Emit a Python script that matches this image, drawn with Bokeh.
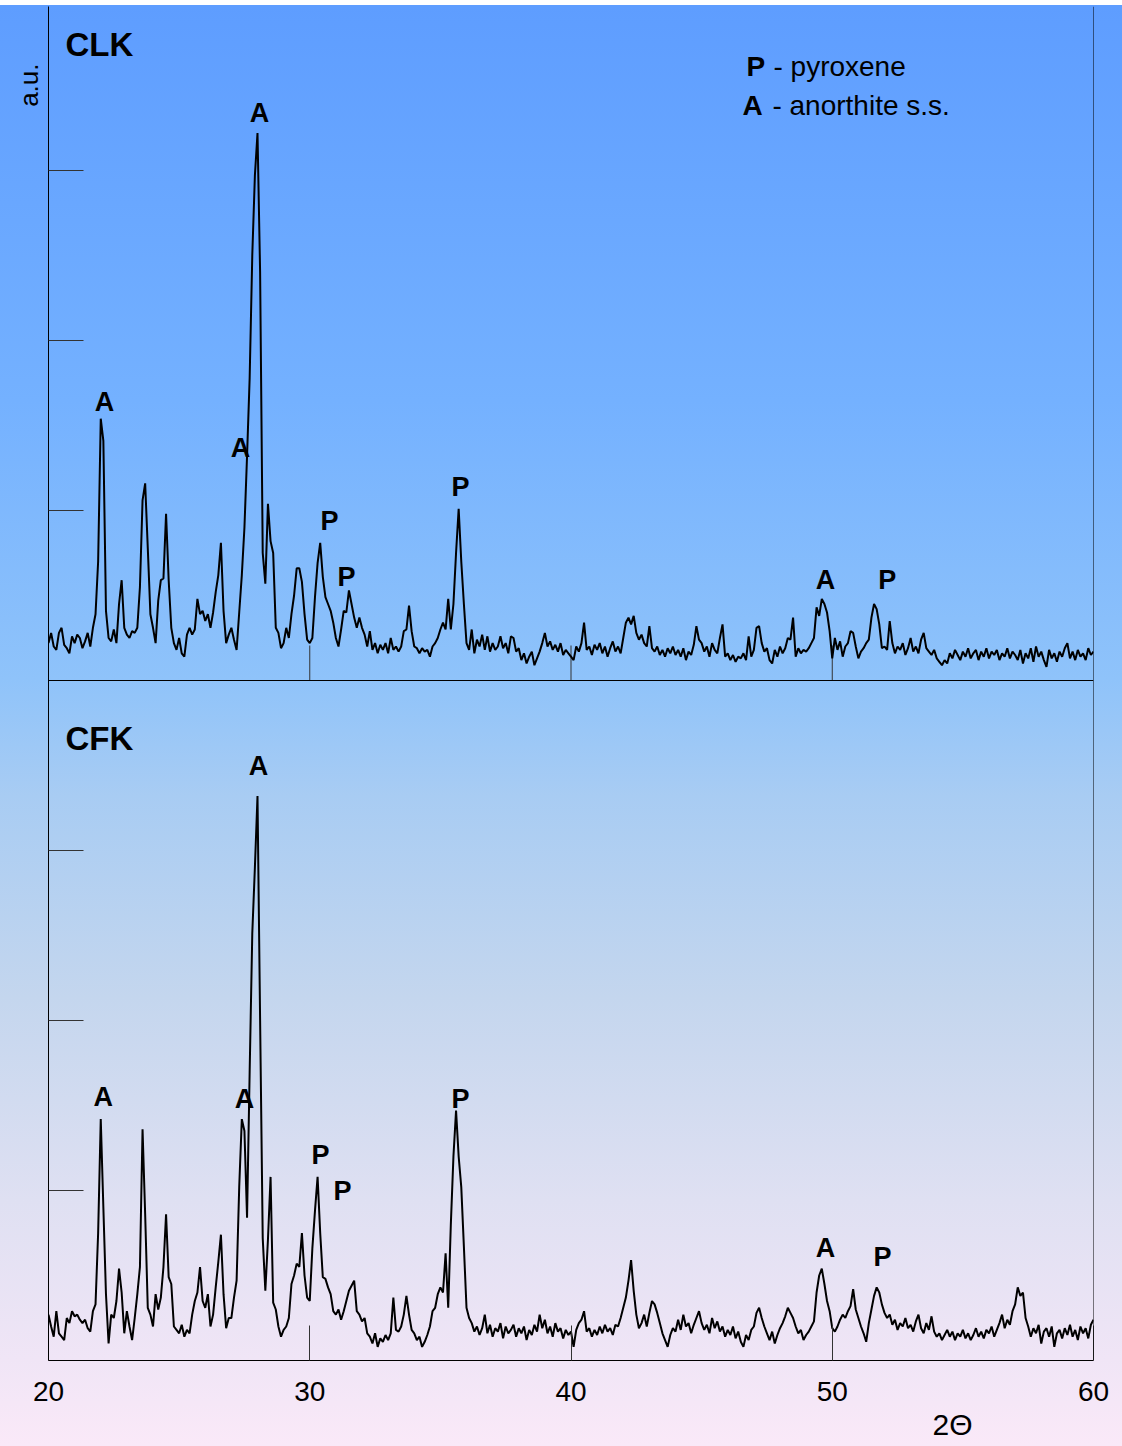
import numpy as np
from bokeh.plotting import figure
from bokeh.models import Range1d, FixedTicker, Span, Title, ColumnDataSource
from bokeh.core.properties import value
from bokeh.embed import file_html
from bokeh.resources import INLINE

# 2-theta scan, 20-60 deg in 0.1 deg steps
two_theta = np.round(np.arange(200, 601) * 0.1, 1)

# CLK diffractogram, intensity in a.u. (x100)
clk = [
    22, 28, 20, 18, 28, 31, 21, 19, 16, 26,
    22, 27, 25, 19, 23, 28, 20, 31, 39, 70,
    154, 141, 41, 25, 23, 30, 22, 45, 59, 31,
    27, 25, 29, 28, 31, 55, 106, 116, 78, 39,
    31, 22, 47, 59, 60, 98, 59, 31, 22, 18,
    25, 16, 14, 27, 31, 27, 30, 48, 39, 41,
    35, 39, 31, 40, 52, 62, 81, 41, 22, 27,
    31, 24, 18, 40, 62, 90, 132, 178, 250, 297,
    322, 240, 75, 57, 104, 82, 75, 31, 28, 19,
    22, 31, 25, 39, 50, 66, 66, 58, 39, 24,
    22, 25, 49, 69, 81, 61, 49, 45, 41, 34,
    25, 20, 30, 41, 40, 53, 45, 37, 31, 37,
    31, 27, 20, 29, 18, 22, 16, 21, 18, 22,
    16, 25, 18, 20, 17, 20, 29, 30, 44, 29,
    20, 19, 16, 19, 17, 18, 14, 20, 22, 25,
    30, 34, 30, 48, 30, 45, 75, 101, 70, 45,
    22, 18, 30, 16, 24, 20, 27, 18, 26, 17,
    22, 18, 20, 26, 19, 22, 16, 26, 25, 17,
    19, 12, 16, 10, 14, 17, 9, 13, 17, 22,
    28, 20, 23, 18, 21, 17, 22, 15, 18, 16,
    14, 12, 20, 17, 22, 34, 18, 20, 15, 21,
    18, 22, 16, 20, 14, 19, 23, 17, 20, 16,
    25, 34, 37, 33, 38, 28, 24, 27, 22, 20,
    32, 19, 17, 20, 15, 18, 14, 19, 16, 20,
    15, 18, 14, 19, 12, 17, 15, 21, 32, 24,
    22, 17, 20, 14, 22, 18, 16, 25, 33, 14,
    16, 12, 15, 11, 14, 13, 16, 12, 26, 14,
    18, 31, 32, 22, 17, 19, 12, 10, 18, 14,
    20, 16, 19, 25, 24, 37, 14, 19, 16, 18,
    17, 19, 22, 25, 43, 38, 48, 45, 40, 29,
    13, 25, 18, 23, 14, 20, 22, 29, 28, 20,
    13, 17, 19, 22, 24, 37, 45, 42, 33, 19,
    20, 18, 35, 22, 16, 20, 18, 22, 15, 19,
    25, 17, 20, 16, 24, 28, 19, 17, 15, 18,
    13, 11, 9, 12, 10, 16, 13, 18, 15, 12,
    17, 14, 19, 13, 16, 18, 12, 17, 14, 19,
    13, 17, 15, 18, 12, 16, 14, 19, 13, 17,
    15, 12, 18, 10, 16, 13, 19, 11, 20, 14,
    17, 12, 8, 18, 13, 16, 11, 17, 14, 19,
    22, 13, 17, 12, 18, 14, 16, 12, 19, 15,
    17,
]

# CFK diffractogram, intensity in a.u. (x100)
cfk = [
    27, 20, 14, 29, 16, 14, 12, 25, 22, 29,
    26, 27, 24, 22, 24, 19, 17, 29, 33, 75,
    142, 90, 39, 10, 27, 25, 35, 54, 40, 16,
    29, 20, 12, 25, 39, 55, 136, 86, 31, 27,
    20, 39, 30, 37, 55, 86, 49, 45, 20, 18,
    16, 21, 14, 18, 16, 27, 35, 40, 55, 35,
    31, 39, 20, 27, 43, 58, 74, 39, 19, 25,
    25, 37, 47, 102, 142, 135, 84, 170, 251, 290,
    332, 200, 72, 41, 71, 108, 34, 30, 20, 14,
    18, 20, 25, 45, 50, 57, 55, 75, 50, 37,
    35, 66, 88, 108, 75, 49, 48, 43, 39, 29,
    27, 30, 24, 29, 35, 41, 44, 47, 29, 27,
    23, 25, 16, 14, 10, 16, 8, 13, 11, 15,
    12, 16, 37, 18, 17, 20, 27, 38, 27, 18,
    16, 12, 14, 8, 11, 15, 20, 29, 31, 39,
    43, 40, 63, 31, 80, 120, 147, 120, 102, 67,
    31, 25, 22, 17, 20, 15, 19, 27, 16, 21,
    14, 19, 17, 22, 13, 20, 16, 18, 21, 14,
    19, 16, 20, 12, 18, 15, 21, 17, 27, 19,
    24, 16, 20, 14, 22, 17, 19, 13, 18, 15,
    17, 8, 18, 22, 24, 29, 17, 19, 14, 18,
    15, 20, 16, 21, 17, 19, 15, 21, 20, 25,
    31, 37, 47, 59, 41, 27, 19, 22, 27, 20,
    28, 35, 33, 28, 22, 16, 12, 8, 15, 19,
    17, 24, 18, 27, 20, 22, 16, 21, 25, 29,
    22, 18, 21, 16, 25, 19, 23, 17, 20, 14,
    18, 15, 20, 13, 17, 11, 8, 15, 12, 18,
    20, 28, 31, 25, 20, 16, 12, 17, 10, 15,
    19, 22, 26, 31, 28, 25, 20, 16, 18, 12,
    15, 17, 20, 23, 40, 50, 54, 45, 35, 29,
    19, 17, 20, 24, 27, 25, 29, 32, 42, 30,
    25, 20, 16, 11, 22, 30, 38, 43, 40, 33,
    28, 25, 27, 21, 24, 18, 22, 20, 25, 19,
    21, 17, 23, 27, 19, 16, 22, 18, 26, 17,
    14, 16, 12, 15, 18, 14, 17, 12, 16, 14,
    18, 13, 16, 12, 15, 19, 14, 17, 13, 18,
    16, 20, 14, 18, 22, 27, 19, 24, 21, 29,
    33, 43, 38, 40, 25, 20, 14, 19, 16, 21,
    10, 17, 19, 14, 20, 8, 16, 18, 13, 19,
    15, 21, 14, 18, 12, 20, 16, 19, 13, 21,
    24,
]

x_ticks = [20, 30, 40, 50, 60]
inner_x_ticks = [30, 40, 50]
y_ticks = [100, 200, 300]

# each panel is 400 units tall; CLK stacked above CFK
panel_offset = {"CLK": 400, "CFK": 0}

# phase markers: (letter, 2theta, height) in panel coordinates
clk_marks = [("A", 28.08, 334), ("A", 22.14, 164), ("A", 27.35, 137),
             ("P", 30.76, 94), ("P", 31.41, 61), ("P", 35.77, 114),
             ("A", 49.74, 59), ("P", 52.11, 59)]
cfk_marks = [("A", 28.04, 350), ("A", 22.10, 155), ("A", 27.50, 154),
             ("P", 30.41, 121), ("P", 31.25, 100), ("P", 35.77, 154),
             ("A", 49.74, 66), ("P", 51.92, 61)]

FONT = "Liberation Sans"
PX_PER_UNIT = 1.7

gradient = ("linear-gradient(to bottom, #ffffff 0px, #ffffff 5px, #5e9dff 5px, "
            "#74b1ff 27.7%, #8fc3fa 47%, #a8ccf3 55%, #c4d6ee 69%, "
            "#dfe0f2 83%, #f0e5f6 94%, #fae9f8 100%)")

p = figure(width=1122, height=1446, x_range=Range1d(20, 60),
           y_range=Range1d(0, (1446 - 6 - 86) / PX_PER_UNIT),
           output_backend="svg", toolbar_location=None,
           min_border_left=48, min_border_right=29,
           min_border_top=6, min_border_bottom=86,
           background_fill_color=None, border_fill_color=None,
           outline_line_color=None)
p.styles = {"background": gradient}

p.xgrid.visible = False
p.ygrid.visible = False

# bottom axis: 2-theta
xa = p.xaxis[0]
xa.ticker = FixedTicker(ticks=x_ticks)
xa.major_tick_in = 35
xa.major_tick_out = 0
xa.major_tick_line_color = "#333333"
xa.minor_tick_line_color = None
xa.axis_line_color = "black"
xa.major_label_text_font = FONT
xa.major_label_text_font_size = "28px"
xa.major_label_text_color = "black"
xa.major_label_standoff = 21

# left axis: unlabeled intensity ticks for both panels
ya = p.yaxis[0]
all_y_ticks = [t + panel_offset["CFK"] for t in y_ticks] + [t + panel_offset["CLK"] for t in y_ticks]
ya.ticker = FixedTicker(ticks=all_y_ticks)
ya.major_label_overrides = {t: "" for t in all_y_ticks}
ya.major_tick_in = 35
ya.major_tick_out = 0
ya.major_tick_line_color = "#333333"
ya.minor_tick_line_color = None
ya.axis_line_color = "black"
ya.major_label_standoff = 0

# axis titles
p.add_layout(Title(text="a.u.", align="right", offset=57, standoff=9,
                   text_font=FONT, text_font_size="26px", text_font_style="normal",
                   text_color="black"), "left")
p.add_layout(Title(text="2\u0398", align="right", offset=121, standoff=5,
                   text_font=FONT, text_font_size="30px", text_font_style="normal",
                   text_color="black"), "below")

# right border and panel divider
p.add_layout(Span(location=60, dimension="height", line_color="black", line_width=1))
p.add_layout(Span(location=panel_offset["CLK"], dimension="width", line_color="black", line_width=1))

# inner ticks on the divider line
p.segment(x0=inner_x_ticks, y0=[panel_offset["CLK"]] * len(inner_x_ticks),
          x1=inner_x_ticks, y1=[panel_offset["CLK"] + 35 / PX_PER_UNIT] * len(inner_x_ticks),
          line_color="#333333", line_width=1)

# diffraction patterns
p.line(two_theta, np.array(clk) + panel_offset["CLK"], line_color="black", line_width=2)
p.line(two_theta, np.array(cfk) + panel_offset["CFK"], line_color="black", line_width=2)

# phase markers
for marks, name in ((clk_marks, "CLK"), (cfk_marks, "CFK")):
    src = ColumnDataSource(dict(
        x=[m[1] for m in marks],
        y=[m[2] + panel_offset[name] for m in marks],
        t=[m[0] for m in marks]))
    p.text(x="x", y="y", text="t", source=src, text_font=value(FONT),
           text_font_style="bold", text_font_size="27px", text_color="black",
           text_align="center", text_baseline="middle")

# sample names
p.text(x=[20.65, 20.65], y=[374 + panel_offset["CLK"], 366 + panel_offset["CFK"]],
       text=["CLK", "CFK"], text_font=value(FONT), text_font_style="bold",
       text_font_size="33px", text_color="black", text_align="left",
       text_baseline="middle")

# key
key_y = [361 + panel_offset["CLK"], 338 + panel_offset["CLK"]]
p.text(x=[46.72, 46.56], y=key_y, text=["P", "A"], text_font=value(FONT),
       text_font_style="bold", text_font_size="28px", text_color="black",
       text_align="left", text_baseline="middle")
p.text(x=[47.75, 47.71], y=key_y, text=["- pyroxene", "- anorthite s.s."],
       text_font=value(FONT), text_font_size="28px", text_color="black",
       text_align="left", text_baseline="middle")

open("out.html", "w").write(file_html(p, INLINE))
